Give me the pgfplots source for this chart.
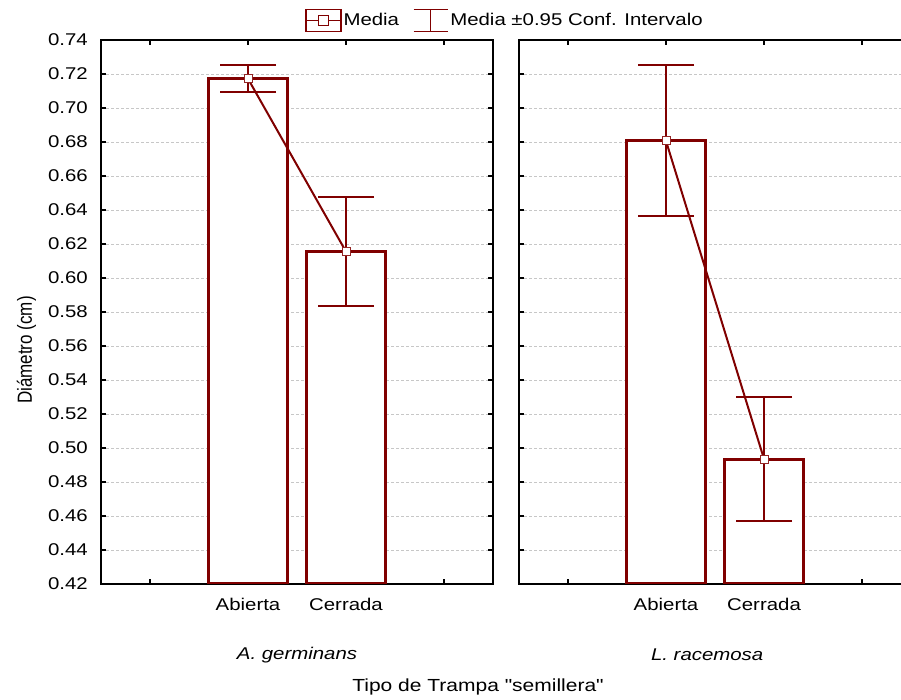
\documentclass[border=0pt]{standalone}
\usepackage{fontspec}
\setmainfont{Liberation Sans}[FakeStretch=1.2, Ligatures=TeXOff]
\newfontfamily\labelfont{Liberation Sans}
\usepackage{pgfplots}
\pgfplotsset{compat=1.18}
\definecolor{maroon}{HTML}{800000}
\newcommand{\fs}{\fontsize{17}{20}\selectfont}
\pgfplotsset{
  panel/.style={
    scale only axis, width=392pt, height=544pt,
    xmin=0, xmax=4, ymin=0.42, ymax=0.74,
    ytick={0.42,0.44,0.46,0.48,0.50,0.52,0.54,0.56,0.58,0.60,0.62,0.64,0.66,0.68,0.70,0.72,0.74},
    xtick={0.5,1.5,2.5,3.5}, xticklabels={,Abierta,Cerrada,},
    tick align=inside, xtick pos=both, ytick pos=both,
    major tick length=5pt,
    major tick style={black, line width=1.5pt},
    axis line style={black, line width=2pt},
    ymajorgrids,
    grid style={color=black!22, line width=0.9pt, dash pattern=on 3pt off 2pt},
    /pgf/number format/fixed, /pgf/number format/fixed zerofill,
    /pgf/number format/precision=2, /pgf/number format/assume math mode=true,
    tick label style={font=\fs},
    yticklabel style={inner sep=0pt, xshift=-13pt},
    xticklabel style={inner sep=0pt, yshift=-14pt},
    xlabel style={font=\fs\itshape, anchor=center},
  },
  barsty/.style={ybar, bar shift=0pt, bar width=0.8, fill=white, draw=maroon, line width=3pt, forget plot},
  errsty/.style={maroon, line width=2pt, mark=-, mark size=28pt, mark options={line width=2pt}, forget plot},
  meansty/.style={maroon, line width=2pt, mark=square*, mark size=4pt, mark options={fill=white, draw=maroon!85, line width=1pt}, forget plot},
}
\begin{document}
\begin{tikzpicture}[x=1pt,y=1pt]
\begin{axis}[panel, at={(101pt,116pt)}, anchor=south west,
  xlabel={A. germinans},
  xlabel style={at={(axis description cs:0.5,-0.1305)}},
  ylabel={\labelfont\fontsize{17}{20}\selectfont Diámetro (cm)},
  ylabel style={at={(axis description cs:-0.19,0.43)}, anchor=center, yscale=1.2},
  legend columns=2,
  legend style={at={(axis description cs:1.0306,1.036)}, anchor=center, draw=none, fill=none,
    font=\fs, inner sep=0pt, nodes={inner sep=2pt},
    /tikz/every even column/.append style={column sep=12pt}},
]
\addlegendimage{legend image code/.code={
  \draw[maroon, line width=1.2pt, fill=white] (-1pt,-11pt) rectangle (34pt,11pt);
  \draw[maroon, line width=1.2pt] (-1pt,0pt) -- (34pt,0pt);
  \draw[maroon, line width=0.8pt, fill=white] (11.5pt,-5pt) rectangle (21.5pt,5pt);
}}
\addlegendentry{Media}
\addlegendimage{legend image code/.code={
  \draw[maroon, line width=1.2pt] (0pt,11pt) -- (34pt,11pt) (17pt,11pt) -- (17pt,-11pt) (0pt,-11pt) -- (34pt,-11pt);
}}
\addlegendentry{Media ±0.95 Conf. Intervalo}
\addplot[barsty] coordinates {(1.5,0.7172) (2.5,0.6155)};
\addplot[errsty] coordinates {(1.5,0.7094) (1.5,0.7253)};
\addplot[errsty] coordinates {(2.5,0.5835) (2.5,0.6476)};
\addplot[meansty] coordinates {(1.5,0.7172) (2.5,0.6155)};
\end{axis}
\begin{axis}[panel, at={(519pt,116pt)}, anchor=south west,
  yticklabels={},
  xlabel={L. racemosa},
  xlabel style={at={(axis description cs:0.48,-0.1305)}},
]
\addplot[barsty] coordinates {(1.5,0.6806) (2.5,0.4935)};
\addplot[errsty] coordinates {(1.5,0.6365) (1.5,0.7253)};
\addplot[errsty] coordinates {(2.5,0.4570) (2.5,0.5300)};
\addplot[meansty] coordinates {(1.5,0.6806) (2.5,0.4935)};
\end{axis}
\node[font=\fontsize{17.5}{20}\selectfont] at (478pt,13pt) {Tipo de Trampa "semillera"};
\pgfresetboundingbox
\path[use as bounding box] (0pt,0pt) rectangle (901pt,700pt);
\end{tikzpicture}
\end{document}
